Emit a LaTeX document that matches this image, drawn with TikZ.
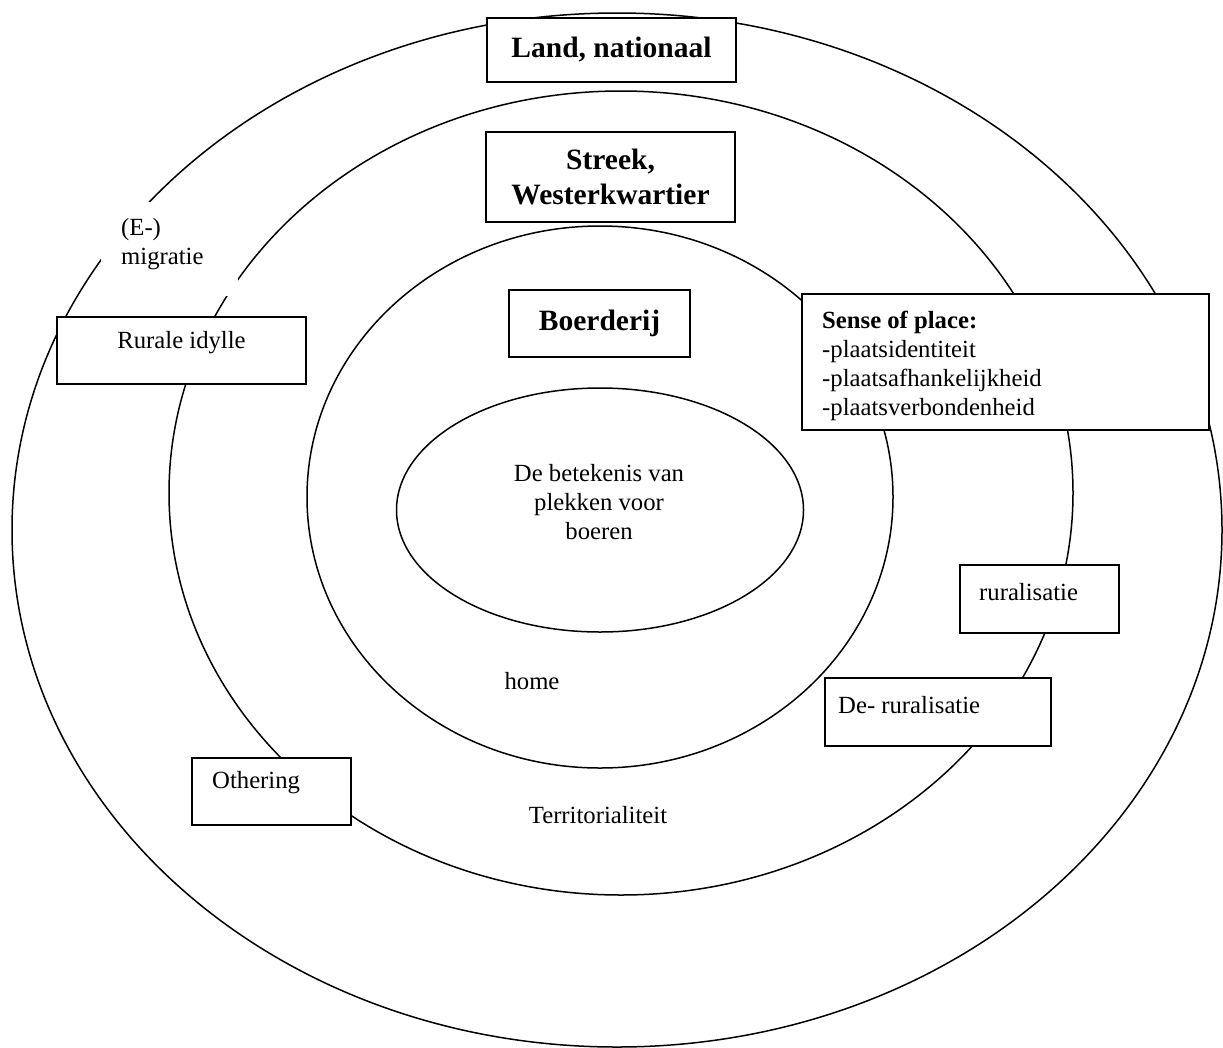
\documentclass[tikz,border=0pt]{standalone}
\usepackage{fontspec}
\setmainfont{Liberation Serif}
\usetikzlibrary{shapes.geometric}
\begin{document}
\begin{tikzpicture}[x=1pt,y=-1pt,
  ring/.style={draw, ellipse, line width=1.5pt, inner sep=0pt},
  tbox/.style={draw, fill=white, line width=1.5pt, inner sep=0pt, rectangle},
  txt/.style={font=\fontsize{24.7}{29}\selectfont, inner sep=0pt},
  head/.style={font=\fontsize{29.5}{35}\selectfont\bfseries, inner sep=0pt, align=center}]
\useasboundingbox (0,0) rectangle (1223,1047);
\fill[white] (0,0) rectangle (1223,1047);
% rings
\node[ring, minimum width=1210pt, minimum height=1034pt] (outer) at (617,530) {};
\node[ring, minimum width=904pt, minimum height=804pt] (middle) at (621,493) {};
\node[ring, minimum width=586pt, minimum height=542pt] (farm) at (600,497) {};
\node[ring, minimum width=407pt, minimum height=244pt] (core) at (600,510) {};
% boxes
\node[tbox, minimum width=249pt, minimum height=64pt] (landbox) at (611.5,50) {};
\node[tbox, minimum width=249pt, minimum height=90pt] (streekbox) at (610.5,177) {};
\node[tbox, minimum width=181pt, minimum height=67pt] (boerbox) at (599.5,323.5) {};
\node[tbox, minimum width=407pt, minimum height=136pt] (sensebox) at (1005.5,362) {};
\node[tbox, minimum width=249pt, minimum height=67pt] (ruralebox) at (181.5,350.5) {};
\node[tbox, minimum width=159pt, minimum height=68pt] (ruralbox) at (1039.5,599) {};
\node[tbox, minimum width=226pt, minimum height=68pt] (deruralbox) at (938,712) {};
\node[tbox, minimum width=159pt, minimum height=67pt] (otherbox) at (271.5,791.5) {};
\node[fill=white, inner sep=0pt, minimum width=137pt, minimum height=94pt] (migbox) at (169.5,249) {};
% texts
\node[head] (landtxt) at (landbox.center) {Land, nationaal};
\node[head] (streektxt) at (streekbox.center) {Streek,\\Westerkwartier};
\node[head] (boertxt) at (boerbox.center) {Boerderij};
\node[txt, anchor=north west, align=left] (sensetxt) at (822,311) {\textbf{Sense of place:}\\-plaatsidentiteit\\-plaatsafhankelijkheid\\-plaatsverbondenheid};
\node[txt] (ruraletxt) at (181.5,343) {Rurale idylle};
\node[txt, anchor=west] (ruraltxt) at (979,592) {ruralisatie};
\node[txt, anchor=west] (deruraltxt) at (838,705) {De- ruralisatie};
\node[txt, anchor=west] (othertxt) at (212,783) {Othering};
\node[txt, anchor=west, align=left] (migtxt) at (121,244) {(E-)\\migratie};
\node[txt, align=center] (coretxt) at (599,502) {De betekenis van\\plekken voor\\boeren};
\node[txt] (hometxt) at (532,681) {home};
\node[txt] (territxt) at (598,815) {Territorialiteit};
\end{tikzpicture}
\end{document}
